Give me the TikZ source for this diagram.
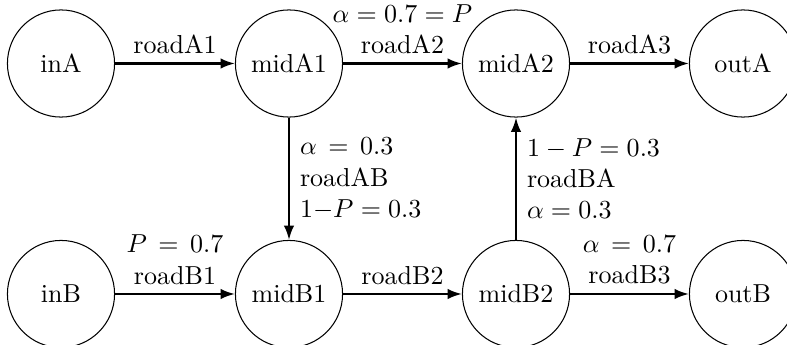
\documentclass[tikz,border=0pt]{standalone}
\usetikzlibrary{arrows.meta}
\begin{document}
\begin{tikzpicture}[x=0.3846pt,y=-0.3846pt,
  state/.style={circle,draw,thin,minimum size=41.2pt,inner sep=0pt},
  road/.style={-{Latex[length=5.5pt,width=4pt]},thick}]
\useasboundingbox (0,0) rectangle (787,345);
\node[state] (inA) at (61,63.5) {inA};
\node[state] (midA1) at (289,63.5) {midA1};
\node[state] (midA2) at (516,63.5) {midA2};
\node[state] (outA) at (743,63.5) {outA};
\node[state] (inB) at (61,294) {inB};
\node[state] (midB1) at (289,294) {midB1};
\node[state] (midB2) at (516,294) {midB2};
\node[state] (outB) at (743,294) {outB};
\draw[road] (inA) -- node[above] (lA1) {roadA1} (midA1);
\draw[road] (midA1) -- node[above,align=center] (lA2) {$\alpha=0.7=P$\\roadA2} (midA2);
\draw[road] (midA2) -- node[above] (lA3) {roadA3} (outA);
\draw[road] (midA1) -- node[right,align=left,xshift=0.5pt] (lAB) {$\alpha\mskip3mu=\mskip3mu0.3$\\roadAB\\$1{-}P=0.3$} (midB1);
\draw[road] (midB2) -- node[right,align=left,xshift=0.5pt] (lBA) {$1-P=0.3$\\roadBA\\$\alpha=0.3$} (midA2);
\draw[road] (inB) -- node[above,align=center] (lB1) {$P\mskip3mu=\mskip3mu0.7$\\roadB1} (midB1);
\draw[road] (midB1) -- node[above] (lB2) {roadB2} (midB2);
\draw[road] (midB2) -- node[above,align=center] (lB3) {$\alpha\mskip3mu=\mskip3mu0.7$\\roadB3} (outB);
\end{tikzpicture}
\end{document}
